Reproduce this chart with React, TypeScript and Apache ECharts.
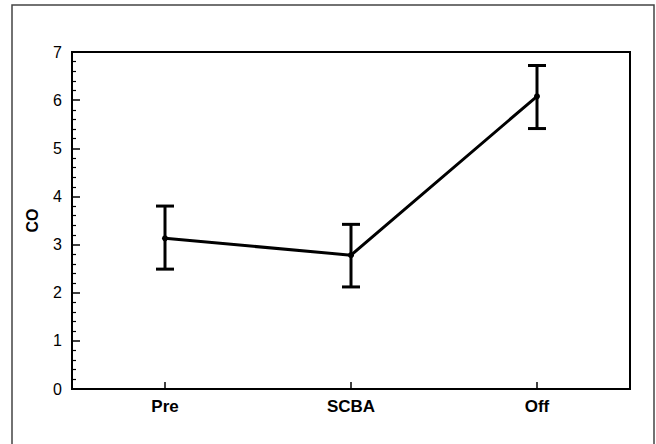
import React, { useEffect, useRef } from "react";
import * as echarts from "echarts";

const categories = ["Pre", "SCBA", "Off"];
const means = [3.13, 2.78, 6.08];
const upper = [3.8, 3.42, 6.72];
const lower = [2.49, 2.12, 5.41];
const yTicks = { min: 0, max: 7, interval: 1 };

const FONT = "'Liberation Sans', Arial, Helvetica, sans-serif";

export default function App() {
  const ref = useRef<HTMLDivElement>(null);
  useEffect(() => {
    if (!ref.current) return;
    const chart = echarts.init(ref.current, undefined, { renderer: "svg" });
    const errData = categories.map((_, i) => [i, lower[i], upper[i]]);
    chart.setOption({
      animation: false,
      backgroundColor: "#fff",
      graphic: [
        {
          type: "rect",
          shape: { x: 12, y: 5, width: 642, height: 460 },
          style: { fill: "none", stroke: "#444", lineWidth: 1.5 },
          silent: true,
        },
      ],
      grid: {
        left: 72,
        right: 26,
        top: 52,
        bottom: 55,
        show: true,
        borderColor: "#000",
        borderWidth: 2,
        backgroundColor: "transparent",
      },
      xAxis: {
        type: "category",
        data: categories,
        boundaryGap: true,
        axisLine: { show: true, lineStyle: { color: "#000", width: 2 } },
        axisTick: {
          show: true,
          inside: true,
          alignWithLabel: true,
          length: 7,
          lineStyle: { color: "#000", width: 1.5 },
        },
        axisLabel: {
          color: "#000",
          fontFamily: FONT,
          fontWeight: "bold",
          fontSize: 17,
          margin: 9,
        },
        splitLine: { show: false },
      },
      yAxis: {
        type: "value",
        min: yTicks.min,
        max: yTicks.max,
        interval: yTicks.interval,
        name: "CO",
        nameLocation: "middle",
        nameGap: 32,
        nameTextStyle: {
          color: "#000",
          fontFamily: FONT,
          fontWeight: "bold",
          fontSize: 16,
        },
        axisLine: { show: true, lineStyle: { color: "#000", width: 2 } },
        axisTick: {
          show: true,
          inside: true,
          length: 8,
          lineStyle: { color: "#000", width: 1.5 },
        },
        minorTick: {
          show: true,
          splitNumber: 5,
          length: 4,
          lineStyle: { color: "#000", width: 1.2 },
        },
        axisLabel: {
          color: "#000",
          fontFamily: FONT,
          fontSize: 16,
          margin: 10,
        },
        splitLine: { show: false },
        minorSplitLine: { show: false },
      },
      series: [
        {
          type: "custom",
          data: errData,
          encode: { x: 0, y: [1, 2] },
          z: 3,
          renderItem: (params: any, api: any) => {
            const x = api.value(0);
            const lo = api.coord([x, api.value(1)]);
            const hi = api.coord([x, api.value(2)]);
            const hw = 9;
            const style = { stroke: "#000", lineWidth: 3 };
            return {
              type: "group",
              children: [
                { type: "line", shape: { x1: hi[0], y1: hi[1], x2: lo[0], y2: lo[1] }, style },
                { type: "line", shape: { x1: hi[0] - hw, y1: hi[1], x2: hi[0] + hw, y2: hi[1] }, style },
                { type: "line", shape: { x1: lo[0] - hw, y1: lo[1], x2: lo[0] + hw, y2: lo[1] }, style },
              ],
            };
          },
        },
        {
          type: "line",
          data: means,
          z: 4,
          symbol: "circle",
          symbolSize: 6,
          itemStyle: { color: "#000" },
          lineStyle: { color: "#000", width: 3 },
        },
      ],
    });
    return () => chart.dispose();
  }, []);
  return (
    <div
      ref={ref}
      style={{ position: "fixed", left: 0, top: 0, width: 656, height: 444 }}
    />
  );
}
